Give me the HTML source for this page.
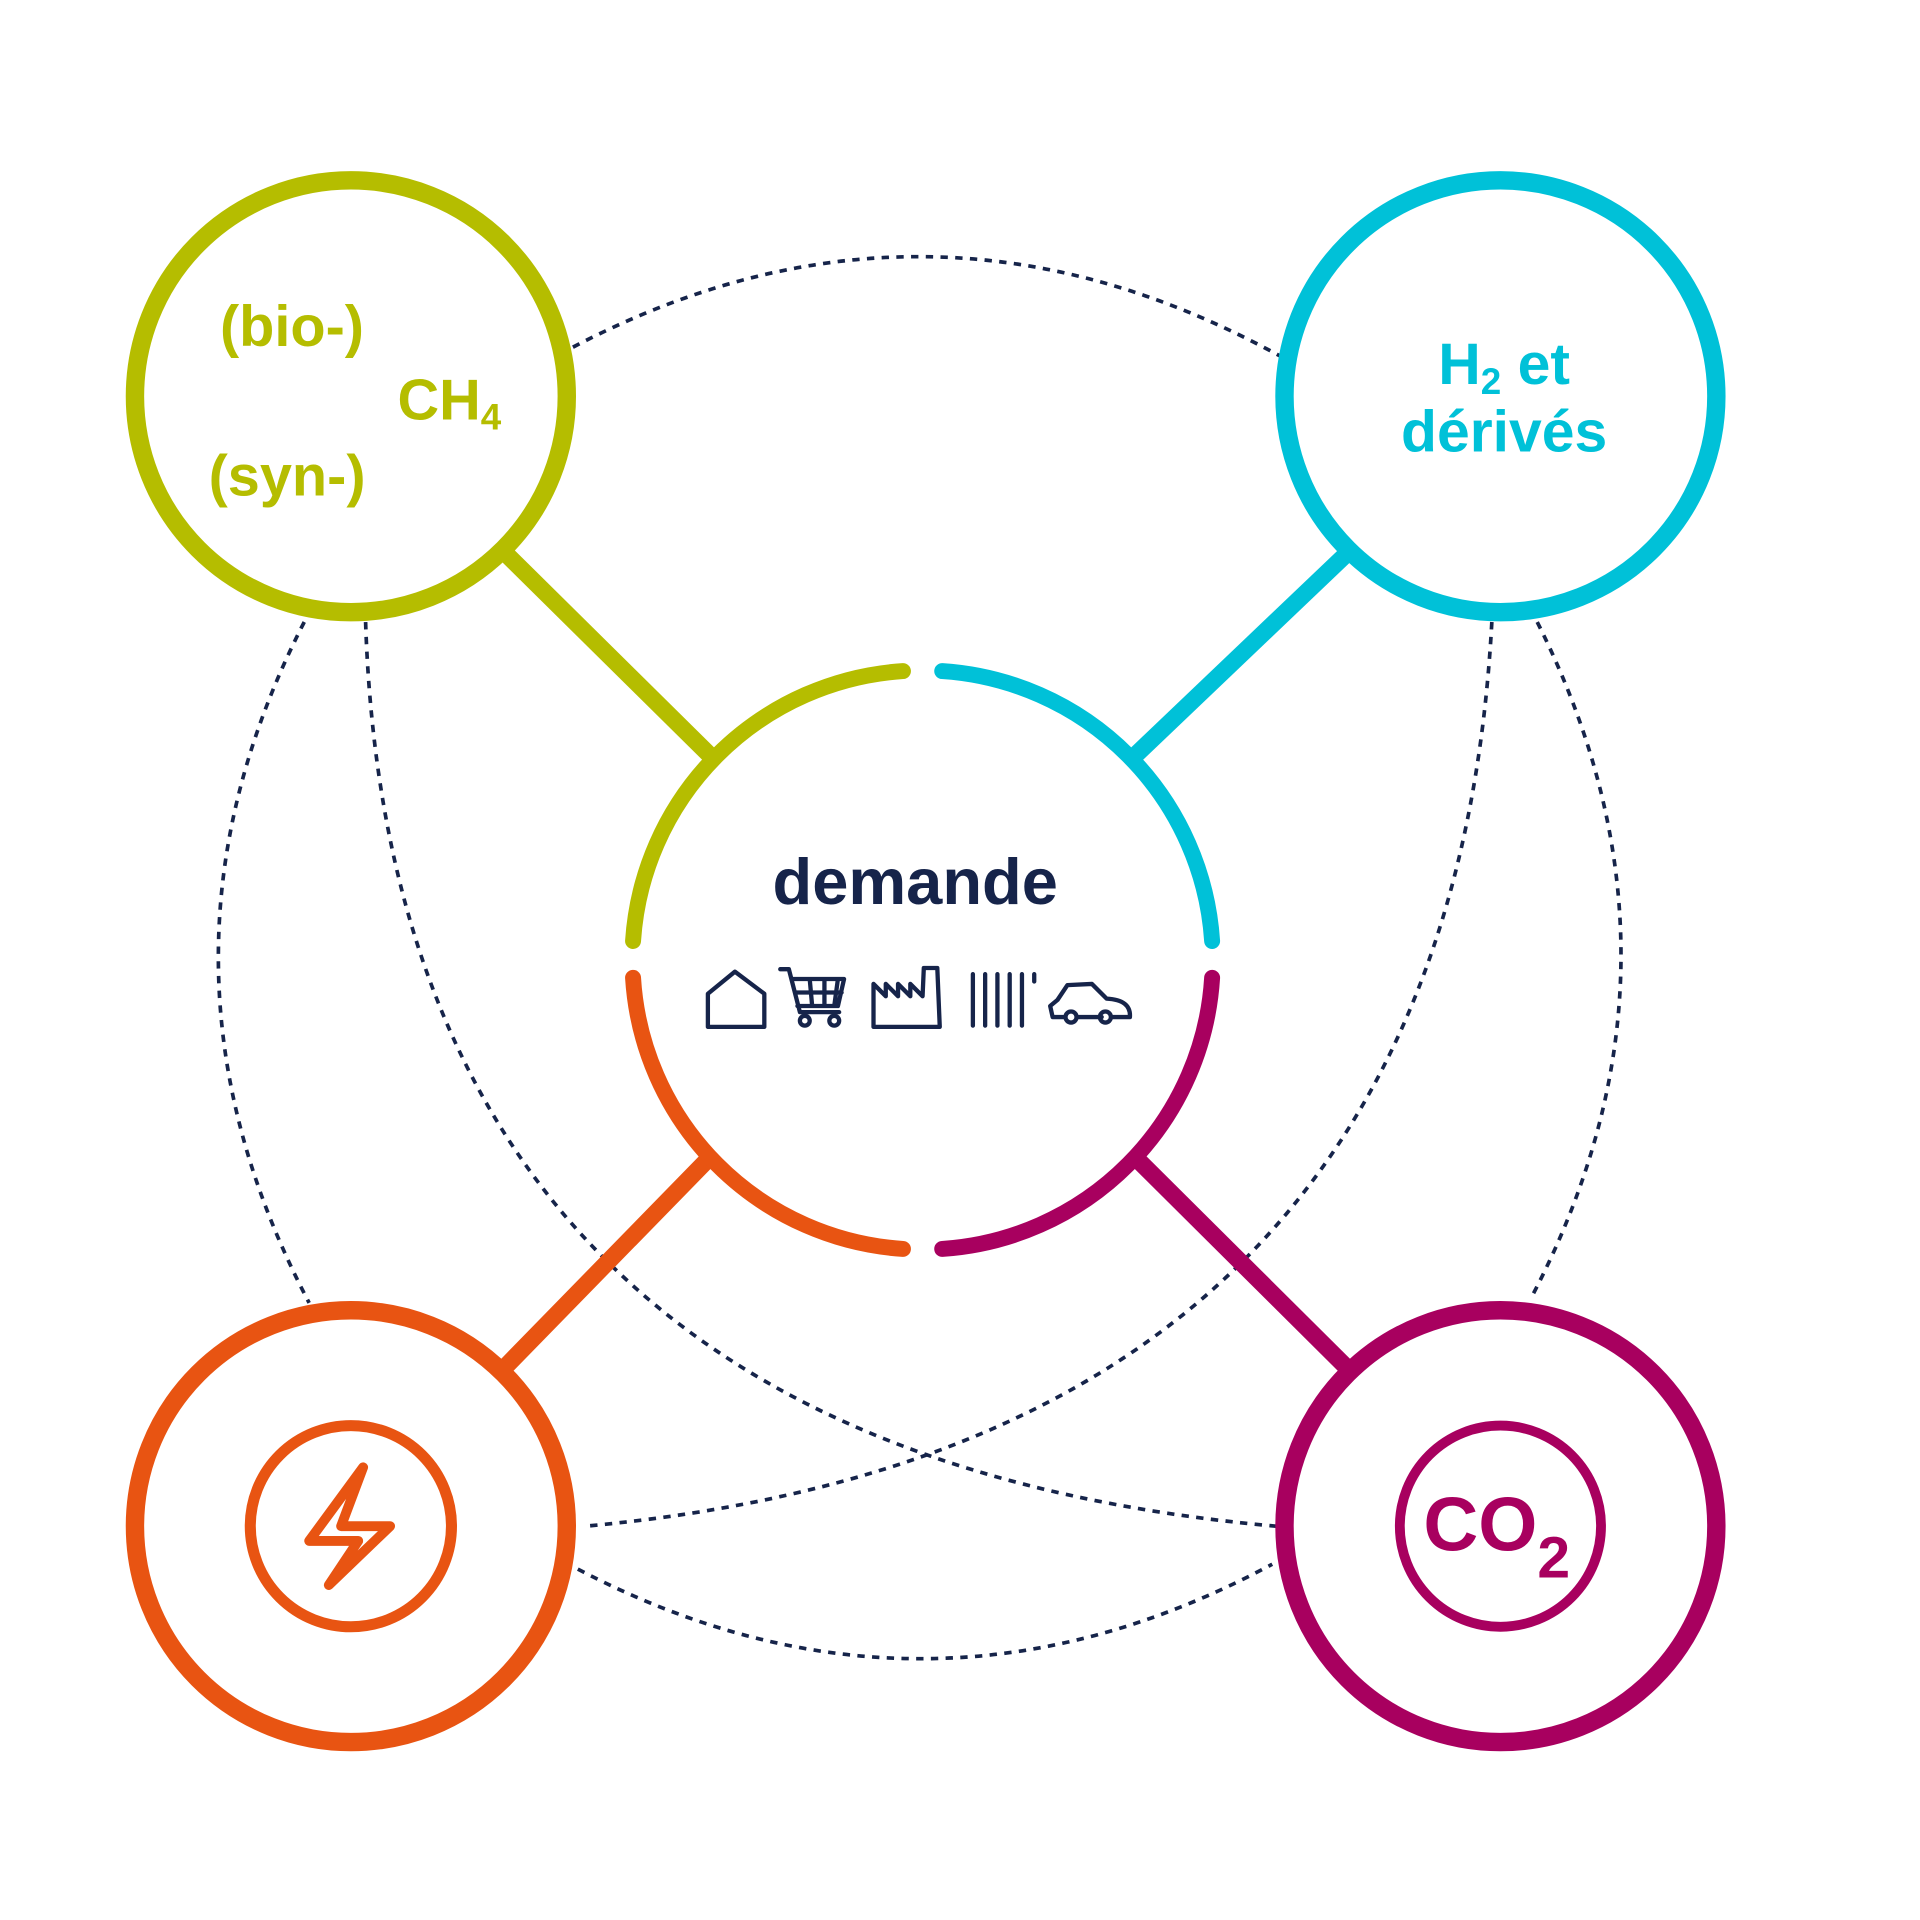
<!DOCTYPE html>
<html><head><meta charset="utf-8"><style>html,body{margin:0;padding:0;background:#fff}svg{display:block}</style></head>
<body>
<svg width="1920" height="1920" viewBox="0 0 1565 1565" xmlns="http://www.w3.org/2000/svg">
<g fill="none" stroke="#16244a" stroke-width="3" stroke-dasharray="6 6">
<path d="M467 283 Q755 132 1043 290"/>
<path d="M471 1279 Q754 1427 1037 1275"/>
<path d="M248 507 Q106 784 252 1062"/>
<path d="M1253 507 Q1392 784 1248 1058"/>
<path d="M298 507 Q320 1180 1040 1244"/>
<path d="M1216 507 Q1180 1180 477 1244"/>
</g>
<g stroke-width="14" fill="none">
<line x1="413" y1="452" x2="580" y2="617" stroke="#b5bd00"/>
<line x1="1097" y1="452" x2="924" y2="617" stroke="#00c1d8"/>
<line x1="412" y1="1114" x2="578" y2="944" stroke="#e85412"/>
<line x1="1097" y1="1114" x2="926" y2="944" stroke="#a8005f"/>
<circle cx="286" cy="323" r="176" stroke="#b5bd00" stroke-width="15"/>
<circle cx="1223" cy="323" r="176" stroke="#00c1d8" stroke-width="15"/>
<circle cx="286" cy="1244" r="176" stroke="#e85412" stroke-width="15"/>
<circle cx="1223" cy="1244" r="176" stroke="#a8005f" stroke-width="15"/>
</g>
<g fill="none" stroke-width="13" stroke-linecap="round">
<path d="M736 547 A236 236 0 0 0 516 767" stroke="#b5bd00"/>
<path d="M768 547 A236 236 0 0 1 988 767" stroke="#00c1d8"/>
<path d="M516 797 A236 236 0 0 0 736 1018" stroke="#e85412"/>
<path d="M988 797 A236 236 0 0 1 768 1018" stroke="#a8005f"/>
</g>
<g font-family="Liberation Sans, sans-serif" font-weight="bold">
<text x="238" y="282" font-size="47" fill="#b5bd00" text-anchor="middle">(bio-)</text>
<text x="324" y="342" font-size="47" fill="#b5bd00">CH<tspan font-size="30" dy="8">4</tspan></text>
<text x="234" y="404" font-size="47" fill="#b5bd00" text-anchor="middle">(syn-)</text>
<text x="1226" y="313" font-size="48" fill="#00c1d8" text-anchor="middle">H<tspan font-size="30" dy="8">2</tspan><tspan dy="-8"> et</tspan></text>
<text x="1226" y="368" font-size="48" fill="#00c1d8" text-anchor="middle">dérivés</text>
<text x="746" y="737" font-size="53" fill="#16244a" text-anchor="middle">demande</text>
<text x="1220" y="1264" font-size="62" fill="#a8005f" text-anchor="middle">CO<tspan font-size="48" dy="22">2</tspan></text>
</g>
<circle cx="286" cy="1244" r="82" fill="none" stroke="#e85412" stroke-width="9"/>
<path d="M296 1196 L252 1256 L292 1256 L268 1292 L318 1244 L278 1244 Z" fill="none" stroke="#e85412" stroke-width="8" stroke-linejoin="round"/>
<circle cx="1223" cy="1244" r="82" fill="none" stroke="#a8005f" stroke-width="8"/>
<g fill="none" stroke="#16244a" stroke-width="3.5" stroke-linejoin="round" stroke-linecap="round">
<path d="M577 837 L577 810 L599 792 L623 810 L623 837 Z"/>
<path d="M636 790 L643 790 L652 825 L684 825 M646 798 L688 798 L683 820 L650 820 M648 809 L686 809 M660 798 L662 820 M672 798 L672 820 M683 798 L680 820"/>
<circle cx="656" cy="832" r="4"/><circle cx="680" cy="832" r="4"/>
<path d="M712 837 L712 802 L722 812 L722 802 L732 812 L732 802 L742 812 L742 802 L752 812 L753 789 L764 789 L766 837 Z"/>
<path d="M793 794 L793 836 M803 794 L803 836 M813 794 L813 836 M823 794 L823 836 M833 794 L833 836 M843 794 L843 800"/>
<path d="M858 829 L856 820 L862 815 L870 803 L890 802 L902 814 Q922 815 921 829 L906 829 M898 829 L878 829 M868 829 L858 829"/>
<circle cx="873" cy="829" r="4.5"/><circle cx="901" cy="829" r="4.5"/>
</g>
</svg>
</body></html>
